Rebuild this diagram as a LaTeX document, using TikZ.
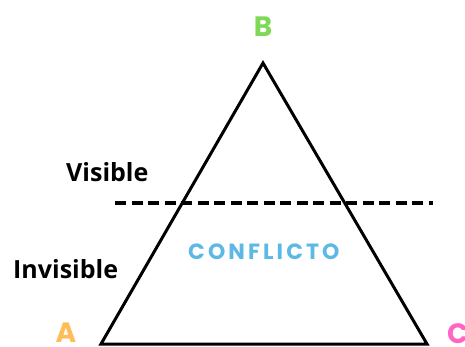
\documentclass[tikz,border=0pt]{standalone}
\usepackage{fontspec}
\setmainfont{Open Sans}
\newfontfamily\letterfont{Poppins}
\newfontfamily\conffont[LetterSpace=14]{Poppins}
\definecolor{bgreen}{HTML}{7ED957}
\definecolor{aorange}{HTML}{FFBD59}
\definecolor{cpink}{HTML}{FF66C4}
\definecolor{confblue}{HTML}{5CB8E4}
\begin{document}
\begin{tikzpicture}[x=1pt,y=-1pt,
  vertexlabel/.style={font=\letterfont\fontsize{28}{30}\selectfont\bfseries, inner sep=0pt, anchor=base},
  sidelabel/.style={font=\fontsize{25}{27}\selectfont\bfseries, inner sep=0pt, anchor=base west},
  edge/.style={line width=3pt, line join=miter},
  divider/.style={line width=3.8pt, dash pattern=on 11pt off 5.5pt}]
\useasboundingbox (0,0) rectangle (465,347);
\coordinate (pB) at (263,63);
\coordinate (pA) at (101,344);
\coordinate (pC) at (427,344);
\draw[edge] (pA) -- (pB) -- (pC) -- cycle;
\coordinate (d1) at (115,203);
\coordinate (d2) at (433,203);
\draw[divider] (d1) -- (d2);
\node[vertexlabel, text=bgreen] (lB) at (263,37) {B};
\node[vertexlabel, text=aorange] (lA) at (66,342) {A};
\node[vertexlabel, text=cpink, anchor=base west] (lC) at (447,343) {C};
\node[sidelabel] (vis) at (66,182) {Visible};
\node[sidelabel] (invis) at (13,278) {Invisible};
\node[font=\conffont\fontsize{22}{23}\selectfont\bfseries, text=confblue, inner sep=0pt, anchor=base west] (conf) at (188,259) {CONFLICTO};
\end{tikzpicture}
\end{document}
